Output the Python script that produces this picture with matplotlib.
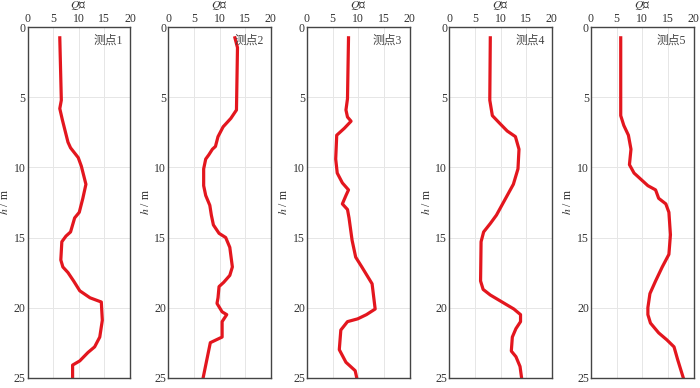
import numpy as np
import matplotlib
matplotlib.use("Agg")
import matplotlib.pyplot as plt

plt.rcParams['font.family'] = ['Liberation Serif', 'Noto Sans CJK SC']
plt.rcParams['mathtext.fontset'] = 'stix'

# depth (m) and Q value for each measuring point
h1 = [0.75, 5.2, 5.8, 6.6, 8.2, 8.6, 9.3, 9.9, 11.2, 12.2, 13.2, 13.6, 14.6, 14.9, 15.3, 16.6,
      17.1, 17.5, 18.1, 18.8, 19.3, 19.6, 20.9, 22.1, 22.8, 23.2, 23.8, 24.1, 25.0]
q1 = [6.3, 6.6, 6.3, 6.8, 7.9, 8.4, 9.9, 10.5, 11.4, 10.8, 10.1, 9.2, 8.4, 7.5, 6.7, 6.5,
      6.9, 7.9, 9.0, 10.2, 12.2, 14.4, 14.6, 14.1, 13.1, 11.8, 10.2, 8.8, 8.8]

h2 = [0.75, 1.45, 5.9, 6.5, 7.1, 7.8, 8.5, 8.7, 9.1, 9.4, 10.1, 11.3, 12.0, 12.7, 13.4, 14.1,
      14.7, 15.0, 15.7, 17.1, 17.7, 18.2, 18.5, 19.3, 19.7, 20.3, 20.5, 21.0, 22.1, 22.5, 25.0]
q2 = [13.0, 13.5, 13.3, 12.2, 10.7, 9.7, 9.2, 8.6, 7.9, 7.3, 6.9, 6.9, 7.3, 8.1, 8.4, 8.8,
      9.9, 11.2, 12.0, 12.5, 12.0, 10.8, 9.9, 9.7, 9.5, 10.5, 11.4, 10.5, 10.5, 8.2, 6.8]

h3 = [0.75, 5.1, 5.9, 6.4, 6.7, 7.2, 7.7, 9.4, 10.4, 11.1, 11.6, 12.0, 12.6, 13.0, 13.6, 15.2,
      16.4, 17.1, 18.0, 18.3, 20.1, 20.5, 20.8, 21.0, 21.6, 23.0, 23.9, 24.5, 25.0]
q3 = [8.1, 7.9, 7.6, 7.9, 8.6, 7.3, 5.8, 5.6, 5.9, 6.9, 8.1, 7.6, 6.9, 7.9, 8.2, 8.8,
      9.5, 10.7, 12.2, 12.7, 13.3, 11.6, 9.9, 7.9, 6.6, 6.3, 7.6, 9.4, 9.7]

h4 = [0.75, 5.2, 6.3, 6.8, 7.4, 7.8, 8.7, 10.1, 11.2, 12.2, 13.4, 14.0, 14.6, 15.3, 18.1, 18.7,
      19.1, 19.6, 20.1, 20.5, 21.0, 21.5, 22.1, 23.1, 23.5, 24.2, 25.0]
q4 = [8.0, 7.9, 8.4, 9.7, 11.3, 12.9, 13.6, 13.4, 12.5, 11.0, 9.2, 8.0, 6.7, 6.2, 6.1, 6.6,
      8.0, 10.3, 12.6, 13.9, 13.9, 13.0, 12.3, 12.1, 13.0, 13.8, 14.1]

h5 = [0.75, 6.3, 7.0, 7.7, 8.7, 9.8, 10.4, 10.8, 11.3, 11.6, 12.2, 12.6, 13.2, 14.8, 16.2, 17.1,
      18.1, 19.0, 20.0, 20.5, 21.1, 21.8, 22.3, 22.8, 23.7, 25.0]
q5 = [5.8, 5.8, 6.4, 7.3, 7.8, 7.5, 8.4, 9.6, 11.1, 12.6, 13.2, 14.6, 15.2, 15.5, 15.2, 13.9,
      12.6, 11.5, 11.1, 11.1, 11.6, 13.2, 14.8, 16.2, 16.9, 18.0]

depths = [h1, h2, h3, h4, h5]
qvals = [q1, q2, q3, q4, q5]
names = ['测点1', '测点2', '测点3', '测点4', '测点5']

fig = plt.figure(figsize=(7, 3.88), dpi=100)
lefts = [27.5, 168.3, 307, 449.3, 591]
W, H = 700, 388
top, bottom, width = 27.3, 377.7, 102.5

for i in range(5):
    ax = fig.add_axes([lefts[i] / W, 1 - bottom / H, width / W, (bottom - top) / H])
    ax.plot(qvals[i], depths[i], color='#e3161e', lw=2.3, solid_joinstyle='round')
    ax.set_xlim(0, 20)
    ax.set_ylim(25, 0)
    ax.set_xticks([0, 5, 10, 15, 20])
    ax.set_yticks([0, 5, 10, 15, 20, 25])
    ax.xaxis.tick_top()
    ax.xaxis.set_label_position('top')
    ax.tick_params(length=0, labelsize=8.5, colors='#333333', pad=1.5)
    ax.grid(True, color='#e6e6e6', lw=0.7)
    for s in ax.spines.values():
        s.set_color('#444444')
        s.set_linewidth(1.0)
    ax.set_xlabel(r'$Q$值', fontsize=8.5, color='#333333', labelpad=3.5)
    ax.set_ylabel(r'$h$ / m', fontsize=8.5, color='#333333', labelpad=2)
    ax.text(0.93, 0.962, names[i], transform=ax.transAxes, ha='right', va='center',
            fontsize=8.5, color='#444444')

fig.savefig('out.png', dpi=100)
